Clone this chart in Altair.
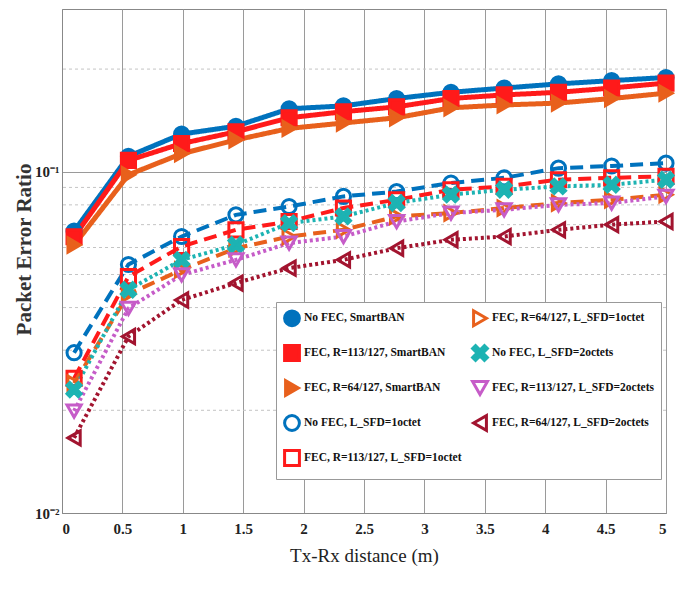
import altair as alt
import pandas as pd

# ---------------- data ----------------
x_vals = [0.1, 0.55, 0.99, 1.44, 1.88, 2.33, 2.77, 3.22, 3.66, 4.11, 4.55, 5.0]

series_names = [
    "No FEC, SmartBAN",
    "FEC, R=113/127, SmartBAN",
    "FEC, R=64/127, SmartBAN",
    "No FEC, L_SFD=1octet",
    "FEC, R=113/127, L_SFD=1octet",
    "FEC, R=64/127, L_SFD=1octet",
    "No FEC, L_SFD=2octets",
    "FEC, R=113/127, L_SFD=2octets",
    "FEC, R=64/127, L_SFD=2octets",
]

s1 = [0.067, 0.111, 0.129, 0.136, 0.153, 0.156, 0.164, 0.171, 0.176, 0.181, 0.185, 0.189]
s2 = [0.0645, 0.108, 0.121, 0.131, 0.144, 0.150, 0.155, 0.164, 0.168, 0.171, 0.176, 0.182]
s3 = [0.061, 0.098, 0.113, 0.124, 0.134, 0.139, 0.144, 0.154, 0.157, 0.159, 0.164, 0.170]
s4 = [0.0295, 0.0535, 0.0646, 0.0748, 0.0791, 0.0847, 0.0875, 0.0927, 0.096, 0.1025, 0.104, 0.106]
s5 = [0.0248, 0.0493, 0.0604, 0.0676, 0.0715, 0.0783, 0.0828, 0.0886, 0.0906, 0.0948, 0.096, 0.097]
s6 = [0.024, 0.0438, 0.0516, 0.0597, 0.0646, 0.0676, 0.074, 0.0757, 0.0783, 0.081, 0.0828, 0.0857]
s7 = [0.023, 0.0451, 0.0552, 0.0611, 0.0707, 0.074, 0.081, 0.0857, 0.0886, 0.0906, 0.0916, 0.0948]
s8 = [0.0199, 0.0398, 0.0499, 0.0552, 0.0618, 0.0646, 0.0715, 0.0757, 0.0774, 0.080, 0.081, 0.0847]
s9 = [0.0166, 0.0329, 0.0421, 0.0472, 0.0522, 0.0552, 0.0597, 0.0632, 0.0646, 0.0676, 0.070, 0.0715]
all_vals = [s1, s2, s3, s4, s5, s6, s7, s8, s9]

x_ticks = [0, 0.5, 1, 1.5, 2, 2.5, 3, 3.5, 4, 4.5, 5]
y_major = [0.01, 0.1]
y_minor = [0.02, 0.03, 0.04, 0.05, 0.06, 0.07, 0.08, 0.09, 0.2]

# ---------------- styles ----------------
X_PATH = "M-1,-0.6L-0.6,-1L0,-0.4L0.6,-1L1,-0.6L0.4,0L1,0.6L0.6,1L0,0.4L-0.6,1L-1,0.6L-0.4,0Z"
colors = ["#0072BD", "#FF1A1A", "#E8601C", "#0072BD", "#FF1A1A", "#E8601C",
          "#1DB3B3", "#C65CC8", "#A2142F"]
shapes = ["circle", "square", "triangle-right", "circle", "square", "triangle-right",
          X_PATH, "triangle-down", "triangle-left"]
fills = ["#0072BD", "#FF1A1A", "#E8601C", "transparent", "transparent", "transparent",
         "#1DB3B3", "transparent", "transparent"]
line_widths = [5, 5, 5, 4, 4, 4, 4, 4, 4]
line_dashes = [[1, 0], [1, 0], [1, 0], [13, 7], [13, 7], [13, 7], [3, 3], [3, 3], [3, 3]]

rows = []
for name, vals in zip(series_names, all_vals):
    for xv, yv in zip(x_vals, vals):
        rows.append({"series": name, "x": xv, "y": yv})
df = pd.DataFrame(rows)

FONT = "Liberation Serif"

x_enc = alt.X("x:Q", scale=alt.Scale(domain=[0, 5], nice=False),
              axis=alt.Axis(values=x_ticks, format="~g", title="Tx-Rx distance (m)",
                            titleFont=FONT, titleFontSize=19, titleFontWeight="normal",
                            titleColor="#222", titlePadding=10,
                            labelFont=FONT, labelFontSize=15, labelFontWeight="bold",
                            labelColor="#222", labelPadding=8, ticks=False,
                            domainColor="#888", gridColor="#9a9a9a", gridWidth=1))
y_enc = alt.Y("y:Q", scale=alt.Scale(type="log", domain=[0.01, 0.3], nice=False),
              axis=alt.Axis(values=y_major,
                            labelExpr="datum.value < 0.05 ? '10⁻²' : '10⁻¹'",
                            title="Packet Error Ratio", titleFont=FONT, titleFontSize=21,
                            titleFontWeight="bold", titleColor="#333",
                            titleX=-38, titleY=240, titleBaseline="middle", titleAlign="center",
                            labelFont=FONT, labelFontSize=15, labelFontWeight="bold",
                            labelColor="#222", labelPadding=3, ticks=False,
                            domainColor="#888", gridColor="#9a9a9a", gridWidth=1))

minor = alt.Chart(pd.DataFrame({"v": y_minor})).mark_rule(
    color="#c4c4c4", strokeDash=[3, 3], strokeWidth=1
).encode(y=alt.Y("v:Q", scale=alt.Scale(type="log", domain=[0.01, 0.3], nice=False)))

base = alt.Chart(df)

line_layers = []
for i, name in enumerate(series_names):
    line_layers.append(
        base.transform_filter(alt.datum.series == name).mark_line(
            color=colors[i], strokeWidth=line_widths[i], strokeDash=line_dashes[i]
        ).encode(x=x_enc, y=y_enc)
    )

leg = alt.Legend(title=None, orient="none", legendX=214, legendY=293, columns=2,
                 padding=7, rowPadding=7, columnPadding=4, symbolSize=220,
                 symbolStrokeWidth=3, labelFont=FONT, labelFontWeight="bold",
                 labelFontSize=11.5, labelColor="#111", labelLimit=400, labelOffset=3,
                 strokeColor="#999", fillColor="white", cornerRadius=0)

points = base.mark_point(size=200, strokeWidth=3, opacity=1).encode(
    x=x_enc, y=y_enc,
    stroke=alt.Stroke("series:N", scale=alt.Scale(domain=series_names, range=colors), legend=leg),
    fill=alt.Fill("series:N", scale=alt.Scale(domain=series_names, range=fills), legend=leg),
    shape=alt.Shape("series:N", scale=alt.Scale(domain=series_names, range=shapes), legend=leg),
)

chart = alt.layer(minor, *line_layers, points).properties(
    width=604, height=504,
    autosize=alt.AutoSizeParams(type="none"),
    padding={"left": 54, "top": 1, "right": 12, "bottom": 70},
    background="white",
).configure_view(stroke="#888", strokeWidth=1)

chart.save("out.html", embed_options={"renderer": "svg", "actions": False})
